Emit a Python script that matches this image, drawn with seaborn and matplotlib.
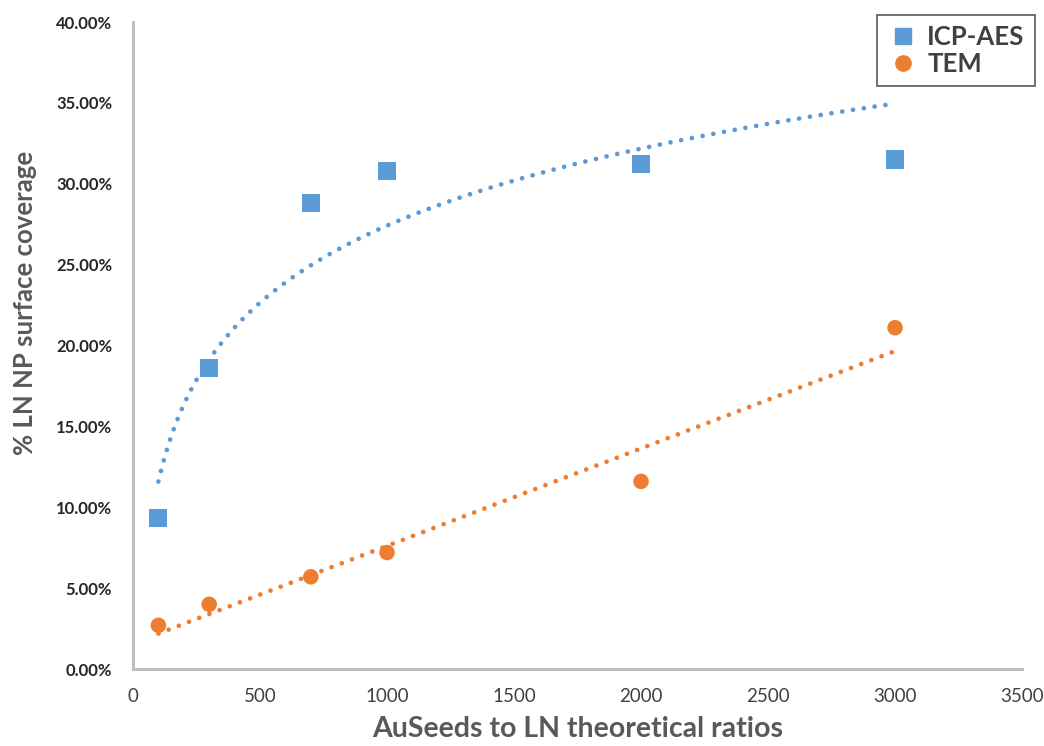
import numpy as np
import pandas as pd
import matplotlib
matplotlib.use("Agg")
import matplotlib.pyplot as plt
import seaborn as sns
from matplotlib.ticker import FuncFormatter
from matplotlib.lines import Line2D

ratios = [100, 300, 700, 1000, 2000, 3000]
icp_aes = [0.0933, 0.186, 0.288, 0.308, 0.312, 0.315]
tem = [0.027, 0.040, 0.057, 0.072, 0.116, 0.211]
x_ticks = [0, 500, 1000, 1500, 2000, 2500, 3000, 3500]
y_ticks = [0.0, 0.05, 0.10, 0.15, 0.20, 0.25, 0.30, 0.35, 0.40]

blue = "#5B9BD5"
orange = "#ED7D31"

sns.set_theme(style="white")
plt.rcParams['font.family'] = ['Lato', 'DejaVu Sans']

df = pd.DataFrame({
    "ratio": ratios * 2,
    "value": icp_aes + tem,
    "series": ["ICP-AES"] * len(ratios) + ["TEM"] * len(ratios),
})

fig = plt.figure(figsize=(10.44, 7.46), dpi=100)
ax = fig.add_axes([0.1274, 0.1032, 0.8516, 0.8673])

# Trendlines: logarithmic for ICP-AES, linear for TEM
xs = np.linspace(min(ratios), max(ratios), 400)
a, b = np.polyfit(np.log(ratios), icp_aes, 1)
ax.plot(xs, a * np.log(xs) + b, linestyle=(0, (0.01, 2.3)), color=blue, lw=3.4,
        dash_capstyle="round", zorder=2)
m, c = np.polyfit(ratios, tem, 1)
ax.plot(xs, m * xs + c, linestyle=(0, (0.01, 2.3)), color=orange, lw=3.4,
        dash_capstyle="round", zorder=2)

sns.scatterplot(data=df, x="ratio", y="value", hue="series", style="series",
                palette={"ICP-AES": blue, "TEM": orange},
                markers={"ICP-AES": "s", "TEM": "o"},
                size="series", sizes={"ICP-AES": 170, "TEM": 125},
                linewidth=0, ax=ax, zorder=3, legend=False)

ax.set_xlim(0, 3500)
ax.set_ylim(0, 0.40)
ax.set_xticks(x_ticks)
ax.set_yticks(y_ticks)
ax.yaxis.set_major_formatter(FuncFormatter(lambda v, p: f"{v*100:.2f}%"))
ax.tick_params(axis="y", labelsize=12, pad=15, length=0, labelcolor="#262626")
ax.tick_params(axis="x", labelsize=13.5, pad=14, length=0, labelcolor="#404040")
for lbl in ax.get_yticklabels():
    lbl.set_fontweight("bold")

for side in ["top", "right"]:
    ax.spines[side].set_visible(False)
for side in ["left", "bottom"]:
    ax.spines[side].set_color("#BFBFBF")
    ax.spines[side].set_linewidth(2.2)

ax.set_xlabel("AuSeeds to LN theoretical ratios", fontsize=20.5, color="#595959",
              fontweight="bold")
ax.set_ylabel("% LN NP surface coverage", fontsize=18.5, color="#595959",
              fontweight="bold")
ax.xaxis.set_label_coords(0.5, -0.073)
ax.yaxis.set_label_coords(-0.108, 0.566)

handles = [
    Line2D([], [], marker="s", color=blue, linestyle="none", markersize=12),
    Line2D([], [], marker="o", color=orange, linestyle="none", markersize=11),
]
leg = fig.legend(handles, ["ICP-AES", "TEM"], loc="upper right",
                 bbox_to_anchor=(1035 / 1044, 1 - 15 / 746), borderaxespad=0,
                 frameon=True, fancybox=False, handlelength=1.2,
                 handletextpad=0.35, borderpad=0.4, labelspacing=0.1,
                 prop={"weight": "bold", "size": 18.5})
leg.get_frame().set_edgecolor("#404040")
leg.get_frame().set_linewidth(1.3)
for t in leg.get_texts():
    t.set_color("#404040")

fig.savefig("out.png", dpi=100)
